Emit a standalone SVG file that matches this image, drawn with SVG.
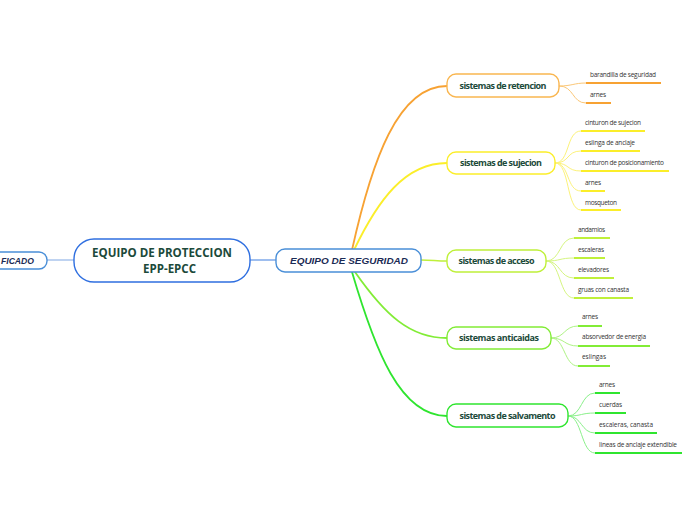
<svg xmlns="http://www.w3.org/2000/svg" width="696" height="520" viewBox="0 0 696 520">
<style>
.lbl{font-family:"Open Sans","Noto Sans","Liberation Sans",sans-serif;font-size:6.5px;fill:#333}
.sub{font-family:"Open Sans","Noto Sans","Liberation Sans",sans-serif;font-size:9px;font-weight:bold;fill:#1c4a3a}
.node{fill:#fff;stroke-width:1.4}
.c{fill:none}
.ul{fill:none;stroke-width:2}
</style>
<g id="connectors">
<path class="c" d="M47,260 L75,260" stroke="#9dbce9" stroke-width="1.3"/>
<path class="c" d="M250,260 L277,260" stroke="#6a9be6" stroke-width="1.3"/>
<path class="c" d="M352,250 C372,160 398,86 447,86" stroke="#f7a233" stroke-width="1.8"/>
<path class="c" d="M354,250 C378,200 405,163 447,163" stroke="#fbee2a" stroke-width="1.8"/>
<path class="c" d="M421,260 C432,260 436,261 447,261" stroke="#bff03a" stroke-width="1.6"/>
<path class="c" d="M355,272 C385,315 410,338 447,338" stroke="#82ec36" stroke-width="1.8"/>
<path class="c" d="M352,272 C375,350 400,416 447,416" stroke="#2fe52f" stroke-width="1.8"/>
<g stroke="#fbc777" stroke-width="1">
<path class="c" d="M559,86 C572,86 574,83 586,83"/>
<path class="c" d="M559,86 C574,86 572,103 586,103"/>
</g>
<g stroke="#fcf27a" stroke-width="1">
<path class="c" d="M555,163 C570,163 566,131 581,131"/>
<path class="c" d="M555,163 C570,163 566,151 581,151"/>
<path class="c" d="M555,163 C570,163 566,171 581,171"/>
<path class="c" d="M555,163 C570,163 566,191 581,191"/>
<path class="c" d="M555,163 C570,163 566,210 581,210"/>
</g>
<g stroke="#d5f580" stroke-width="1">
<path class="c" d="M546,261 C561,261 559,238 574,238"/>
<path class="c" d="M546,261 C561,261 559,258 574,258"/>
<path class="c" d="M546,261 C561,261 559,278 574,278"/>
<path class="c" d="M546,261 C561,261 559,298 574,298"/>
</g>
<g stroke="#aef384" stroke-width="1">
<path class="c" d="M551,338 C565,338 564,326 578,326"/>
<path class="c" d="M551,338 C565,338 564,346 578,346"/>
<path class="c" d="M551,338 C565,338 564,366 578,366"/>
</g>
<g stroke="#8af08a" stroke-width="1">
<path class="c" d="M568,416 C582,416 581,393 595,393"/>
<path class="c" d="M568,416 C582,416 581,413 595,413"/>
<path class="c" d="M568,416 C582,416 581,433 595,433"/>
<path class="c" d="M568,416 C582,416 581,453 595,453"/>
</g>
</g>
<g id="certificado">
<rect x="-30" y="252" width="77" height="17" rx="8" class="node" stroke="#4a8fd8"/>
<text x="1" y="264" font-family="'Liberation Sans',Arial,sans-serif" font-size="9.5" font-weight="bold" font-style="italic" fill="#1b2b55" textLength="33" lengthAdjust="spacingAndGlyphs">FICADO</text>
</g>
<g id="epp">
<rect x="74" y="239" width="176" height="43" rx="20" class="node" stroke="#2f6fe0"/>
<text x="162" y="257" text-anchor="middle" font-family="'Open Sans','Noto Sans',sans-serif" font-size="11.5" font-weight="bold" fill="#1c4a3a" textLength="140" lengthAdjust="spacingAndGlyphs">EQUIPO DE PROTECCION</text>
<text x="169.5" y="273" text-anchor="middle" font-family="'Open Sans','Noto Sans',sans-serif" font-size="11.5" font-weight="bold" fill="#1c4a3a" textLength="53" lengthAdjust="spacingAndGlyphs">EPP-EPCC</text>
</g>
<g id="seguridad">
<rect x="276" y="249" width="145" height="23" rx="9" class="node" stroke="#4a8fd8"/>
<text x="349" y="264" text-anchor="middle" font-family="'Liberation Sans',Arial,sans-serif" font-size="9.5" font-weight="bold" font-style="italic" fill="#1b2b55" textLength="118" lengthAdjust="spacingAndGlyphs">EQUIPO DE SEGURIDAD</text>
</g>
<g id="retencion">
<rect x="447" y="74" width="112" height="23" rx="9" class="node" stroke="#f9b650"/>
<text x="503" y="89" text-anchor="middle" class="sub" textLength="87">sistemas de retencion</text>
<text x="590" y="77" class="lbl" textLength="66">barandilla de seguridad</text>
<path class="ul" d="M586,83 H661" stroke="#f7a233"/>
<text x="590" y="97" class="lbl" textLength="16">arnes</text>
<path class="ul" d="M586,103 H611" stroke="#f7a233"/>
</g>
<g id="sujecion">
<rect x="447" y="152" width="108" height="22" rx="9" class="node" stroke="#fbee2a"/>
<text x="501" y="166" text-anchor="middle" class="sub" textLength="82">sistemas de sujecion</text>
<text x="585" y="125" class="lbl" textLength="56">cinturon de sujecion</text>
<path class="ul" d="M581,131 H645" stroke="#fbee2a"/>
<text x="585" y="145" class="lbl" textLength="50">eslinga de anclaje</text>
<path class="ul" d="M581,151 H640" stroke="#fbee2a"/>
<text x="585" y="165" class="lbl" textLength="79">cinturon de posicionamiento</text>
<path class="ul" d="M581,171 H669" stroke="#fbee2a"/>
<text x="585" y="185" class="lbl" textLength="16">arnes</text>
<path class="ul" d="M581,191 H605" stroke="#fbee2a"/>
<text x="585" y="205" class="lbl" textLength="32">mosqueton</text>
<path class="ul" d="M581,210 H621" stroke="#fbee2a"/>
</g>
<g id="acceso">
<rect x="447" y="250" width="99" height="22" rx="9" class="node" stroke="#bff03a"/>
<text x="496.5" y="264" text-anchor="middle" class="sub" textLength="76">sistemas de acceso</text>
<text x="578" y="232" class="lbl" textLength="27">andamios</text>
<path class="ul" d="M574,238 H610" stroke="#bff03a"/>
<text x="578" y="252" class="lbl" textLength="26">escaleras</text>
<path class="ul" d="M574,258 H605" stroke="#bff03a"/>
<text x="578" y="272" class="lbl" textLength="31">elevadores</text>
<path class="ul" d="M574,278 H614" stroke="#bff03a"/>
<text x="578" y="292" class="lbl" textLength="51">gruas con canasta</text>
<path class="ul" d="M574,298 H633" stroke="#bff03a"/>
</g>
<g id="anticaidas">
<rect x="447" y="327" width="104" height="22" rx="9" class="node" stroke="#82ec36"/>
<text x="499" y="341" text-anchor="middle" class="sub" textLength="80">sistemas anticaidas</text>
<text x="582" y="319" class="lbl" textLength="16">arnes</text>
<path class="ul" d="M578,326 H602" stroke="#82ec36"/>
<text x="582" y="339" class="lbl" textLength="64">absorvedor de energia</text>
<path class="ul" d="M578,346 H650" stroke="#82ec36"/>
<text x="582" y="359" class="lbl" textLength="24">eslingas</text>
<path class="ul" d="M578,366 H610" stroke="#82ec36"/>
</g>
<g id="salvamento">
<rect x="447" y="404" width="121" height="23" rx="9" class="node" stroke="#2fe52f"/>
<text x="507.5" y="419" text-anchor="middle" class="sub" textLength="96">sistemas de salvamento</text>
<text x="599" y="387" class="lbl" textLength="16">arnes</text>
<path class="ul" d="M595,393 H620" stroke="#2fe52f"/>
<text x="599" y="407" class="lbl" textLength="23">cuerdas</text>
<path class="ul" d="M595,413 H626" stroke="#2fe52f"/>
<text x="599" y="427" class="lbl" textLength="54">escaleras,  canasta</text>
<path class="ul" d="M595,433 H657" stroke="#2fe52f"/>
<text x="599" y="447" class="lbl" textLength="78">lineas de anclaje extendible</text>
<path class="ul" d="M595,453 H682" stroke="#2fe52f"/>
</g>
</svg>
